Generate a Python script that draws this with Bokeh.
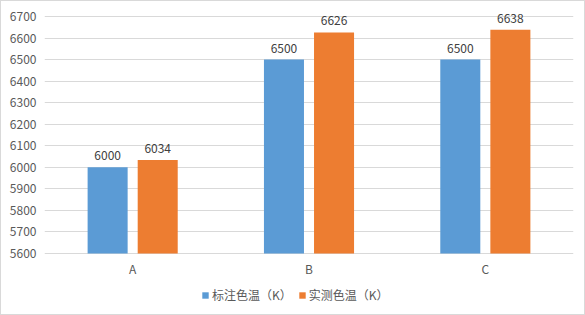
from bokeh.plotting import figure
from bokeh.models import ColumnDataSource, FactorRange, Range1d, FixedTicker, Legend, LegendItem
from bokeh.transform import dodge
from bokeh.core.properties import value
from bokeh.embed import file_html
from bokeh.resources import INLINE

categories = ["A", "B", "C"]
nominal = [6000, 6500, 6500]
measured = [6034, 6626, 6638]
series_names = ["标注色温（K）", "实测色温（K）"]
y_ticks = [5600, 5700, 5800, 5900, 6000, 6100, 6200, 6300, 6400, 6500, 6600, 6700]

FONT = "Noto Sans CJK SC"
BLUE = "#5B9BD5"
ORANGE = "#ED7D31"
TXT = "#595959"
GRID = "#D9D9D9"

y0, y1 = y_ticks[0], y_ticks[-1]
# extend the frame downward/upward so category labels, legend and top data labels live inside it
extra_bottom = (y1 - y0) * 61 / 237
extra_top = (y1 - y0) * 13 / 237
src = ColumnDataSource(dict(cat=categories, nominal=nominal, measured=measured,
                            nl=[str(v) for v in nominal], ml=[str(v) for v in measured],
                            base=[y0] * len(categories)))

p = figure(x_range=FactorRange(*categories, range_padding=0),
           y_range=Range1d(y0 - extra_bottom, y1 + extra_top),
           width=585, height=315, output_backend="svg", toolbar_location=None,
           min_border_left=43, min_border_right=13, min_border_top=2, min_border_bottom=2)
p.x_range.factor_padding = 0
p.outline_line_color = None
p.background_fill_color = "white"
p.border_fill_color = "white"
p.styles = {"border": "1px solid #D9D9D9", "box-sizing": "border-box"}

off = 0.142
w = 0.227
r1 = p.vbar(x=dodge("cat", -off, range=p.x_range), top="nominal", bottom=y0, width=w,
            source=src, fill_color=BLUE, line_color=None)
r2 = p.vbar(x=dodge("cat", off, range=p.x_range), top="measured", bottom=y0, width=w,
            source=src, fill_color=ORANGE, line_color=None)

p.text(x=dodge("cat", -off, range=p.x_range), y="nominal", text="nl", source=src,
       text_align="center", text_baseline="bottom", y_offset=-7,
       text_font=value(FONT), text_font_size="12px", text_color="#404040")
p.text(x=dodge("cat", off, range=p.x_range), y="measured", text="ml", source=src,
       text_align="center", text_baseline="bottom", y_offset=-7,
       text_font=value(FONT), text_font_size="12px", text_color="#404040")

# category labels
p.text(x="cat", y="base", text="cat", source=src, text_align="center", text_baseline="top",
       y_offset=6, text_font=value(FONT), text_font_size="12px", text_color=TXT)

p.yaxis.ticker = FixedTicker(ticks=y_ticks)
p.yaxis.axis_line_color = None
p.yaxis.major_tick_line_color = None
p.yaxis.minor_tick_line_color = None
p.yaxis.major_label_text_font = FONT
p.yaxis.major_label_text_font_size = "12px"
p.yaxis.major_label_text_color = TXT
p.yaxis.major_label_standoff = 2
p.xaxis.visible = False

p.xgrid.grid_line_color = None
p.ygrid.grid_line_color = GRID

legend = Legend(items=[LegendItem(label=series_names[0], renderers=[r1]),
                       LegendItem(label=series_names[1], renderers=[r2])],
                orientation="horizontal", location=(157, 11),
                label_text_font=FONT, label_text_font_size="12px", label_text_color=TXT,
                glyph_width=8, glyph_height=8, spacing=6, label_standoff=3,
                border_line_color=None, background_fill_alpha=0, margin=0, padding=0)
p.add_layout(legend, "center")

open("out.html", "w").write(file_html(p, INLINE))
